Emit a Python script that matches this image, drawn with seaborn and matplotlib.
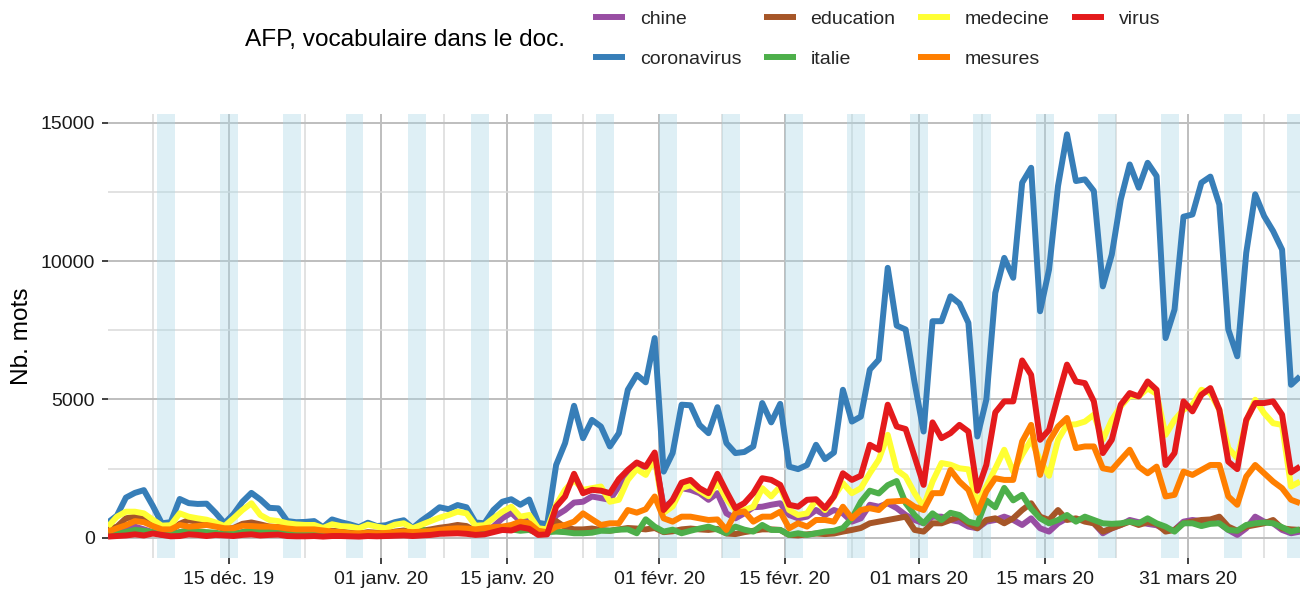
import numpy as np
import pandas as pd
import matplotlib
matplotlib.use("Agg")
import matplotlib.pyplot as plt
import matplotlib.dates as mdates
from matplotlib.lines import Line2D
import seaborn as sns

# ---- data: daily word counts in AFP dispatches (one value per day, Dec 1 2019 -> Apr 12 2020)
first_day = "2019-12-01 12:00"

chine = [100, 150, 250, 400, 300, 200, 100, 80, 200, 250,
         200, 180, 150, 100, 120, 200, 250, 200, 300, 200,
         120, 100, 100, 110, 80, 100, 100, 80, 70, 100,
         80, 70, 100, 120, 80, 100, 150, 200, 250, 300,
         280, 150, 150, 400, 700, 900, 600, 700, 350, 250,
         800, 1000, 1270, 1300, 1490, 1430, 1370, 1850, 2270, 2570,
         2570, 2900, 1120, 1300, 1790, 1730, 1610, 1370, 1610, 880,
         700, 880, 1100, 1120, 1190, 1245, 820, 700, 760, 1000,
         820, 1000, 880, 580, 700, 1190, 1120, 1245, 1070, 820,
         640, 520, 760, 760, 640, 580, 400, 340, 580, 640,
         760, 640, 460, 700, 340, 220, 520, 700, 640, 640,
         520, 160, 340, 460, 640, 560, 500, 450, 280, 280,
         580, 640, 600, 640, 520, 280, 100, 340, 760, 580,
         520, 280, 160, 220]

coronavirus = [550, 800, 1450, 1620, 1720, 1150, 520, 560, 1400, 1250,
               1220, 1230, 900, 520, 850, 1300, 1620, 1380, 1080, 1060,
               600, 560, 570, 600, 380, 660, 560, 480, 380, 540,
               420, 450, 560, 630, 350, 620, 850, 1100, 1030, 1180,
               1100, 550, 520, 1000, 1300, 1390, 1190, 1380, 540, 480,
               2630, 3420, 4770, 3600, 4260, 4020, 3300, 3780, 5350, 5890,
               5620, 7220, 2390, 3060, 4810, 4790, 4080, 3780, 4720, 3420,
               3060, 3100, 3300, 4870, 4170, 4840, 2570, 2480, 2630, 3360,
               2840, 3080, 5350, 4200, 4380, 6080, 6440, 9760, 7670, 7530,
               5600, 3840, 7830, 7830, 8730, 8470, 7770, 3660, 4990, 8850,
               10120, 9400, 12840, 13380, 8190, 9700, 12720, 14590, 12900, 12960,
               12540, 9090, 10240, 12230, 13500, 12660, 13560, 13080, 7220, 8250,
               11610, 11690, 12840, 13060, 12050, 7530, 6560, 10300, 12420, 11630,
               11090, 10420, 5530, 5830]

education = [300, 400, 700, 760, 720, 500, 300, 250, 500, 640,
             560, 500, 450, 300, 350, 500, 550, 480, 400, 380,
             300, 280, 260, 240, 200, 250, 220, 180, 150, 200,
             180, 150, 220, 260, 180, 250, 300, 360, 400, 460,
             420, 250, 230, 330, 380, 400, 380, 420, 200, 180,
             600, 380, 300, 300, 330, 280, 250, 300, 350, 330,
             300, 350, 200, 230, 300, 330, 300, 280, 320, 150,
             130, 200, 250, 300, 300, 280, 100, 80, 120, 150,
             130, 150, 220, 280, 350, 520, 580, 640, 700, 760,
             280, 220, 520, 520, 640, 760, 520, 340, 640, 700,
             520, 700, 1000, 1245, 760, 640, 1000, 640, 700, 580,
             520, 220, 340, 460, 580, 460, 560, 500, 220, 280,
             520, 580, 640, 660, 760, 400, 250, 400, 460, 520,
             640, 340, 300, 280]

italie = [100, 150, 200, 280, 250, 200, 120, 100, 200, 250,
          220, 200, 180, 120, 150, 200, 250, 220, 200, 180,
          120, 100, 120, 130, 80, 120, 130, 100, 90, 120,
          100, 90, 120, 150, 100, 300, 180, 200, 300, 250,
          220, 150, 150, 250, 300, 300, 250, 280, 150, 200,
          220, 200, 160, 160, 180, 250, 250, 290, 300, 160,
          665, 400, 220, 290, 160, 250, 330, 400, 290, 160,
          400, 290, 220, 460, 280, 280, 100, 160, 100, 160,
          220, 250, 350, 700, 1300, 1700, 1600, 1900, 2050, 1250,
          820, 520, 880, 640, 900, 820, 580, 500, 1350, 1100,
          1800, 1350, 1550, 1050, 700, 520, 640, 820, 580, 760,
          640, 520, 500, 520, 580, 520, 700, 520, 400, 220,
          520, 520, 420, 500, 520, 280, 250, 460, 520, 550,
          520, 380, 220, 300]

medecine = [400, 760, 940, 940, 880, 650, 435, 450, 880, 760,
            700, 650, 550, 420, 700, 1000, 1245, 820, 640, 600,
            520, 480, 460, 460, 350, 485, 420, 400, 340, 470,
            400, 340, 470, 520, 340, 470, 600, 725, 820, 940,
            880, 435, 450, 700, 940, 1120, 760, 820, 340, 300,
            1185, 1730, 2090, 1730, 1790, 1850, 1300, 1370, 2090, 2480,
            2270, 2900, 900, 1130, 1790, 1900, 1700, 1500, 2000, 1400,
            1000, 1000, 1120, 1790, 1490, 1850, 1000, 820, 880, 1370,
            1000, 1490, 1970, 1610, 1790, 2330, 2820, 3720, 2450, 2210,
            1610, 1120, 2030, 2700, 2640, 2510, 2470, 1245, 1850, 2500,
            3180, 2390, 3000, 3540, 2800, 2240, 3540, 4080, 4100, 4200,
            4450, 3540, 4260, 4750, 5120, 5110, 5400, 5200, 3720, 4260,
            4630, 4800, 5350, 5230, 4630, 3240, 2880, 4200, 4990, 4500,
            4140, 4080, 1850, 2030]

mesures = [220, 340, 450, 600, 560, 420, 300, 300, 460, 400,
           420, 460, 400, 340, 340, 430, 420, 400, 400, 380,
           330, 300, 300, 300, 260, 220, 200, 160, 160, 170,
           160, 170, 200, 220, 200, 220, 240, 280, 320, 340,
           330, 300, 340, 380, 400, 460, 580, 520, 250, 200,
           400, 460, 580, 880, 665, 460, 520, 520, 1000, 905,
           1030, 1490, 700, 580, 760, 760, 700, 640, 660, 280,
           900, 950, 580, 760, 760, 940, 340, 520, 400, 640,
           640, 580, 1120, 700, 1000, 1065, 1000, 1300, 1320, 1340,
           1120, 1000, 1610, 1610, 2450, 2030, 1730, 900, 1670, 2150,
           2090, 2090, 3480, 4080, 2270, 3480, 4020, 4330, 3240, 3300,
           3300, 2510, 2450, 2820, 3180, 2570, 2330, 2570, 1490, 1550,
           2390, 2270, 2450, 2630, 2630, 1490, 1190, 2210, 2630, 2330,
           2030, 1790, 1370, 1250]

virus = [40, 60, 80, 120, 80, 150, 100, 50, 60, 120,
         100, 60, 100, 80, 60, 100, 120, 80, 100, 110,
         60, 50, 50, 60, 40, 60, 60, 50, 40, 60,
         50, 60, 70, 80, 60, 80, 100, 140, 150, 160,
         140, 100, 120, 200, 280, 260, 380, 320, 100, 120,
         1120, 1490, 2310, 1610, 1730, 1700, 1610, 2120, 2450, 2720,
         2570, 3080, 1000, 1370, 1990, 2090, 1790, 1610, 2310, 1670,
         1070, 1250, 1610, 2150, 2090, 1910, 1190, 1120, 1370, 1390,
         1070, 1490, 2330, 2090, 2240, 3360, 3180, 4810, 4020, 3930,
         2930, 1910, 4170, 3600, 3780, 4080, 3840, 1700, 2630, 4530,
         4930, 4930, 6410, 5890, 3540, 3900, 5110, 6260, 5650, 5590,
         4930, 3060, 3540, 4810, 5230, 5110, 5650, 5350, 2630, 3060,
         4930, 4570, 5170, 5410, 4630, 2750, 2480, 4260, 4870, 4870,
         4930, 4450, 2360, 2570]

terms = ["chine", "coronavirus", "education", "italie", "medecine", "mesures", "virus"]
term_colors = ["#984EA3", "#377EB8", "#A65628", "#4DAF4A", "#FFFF33", "#FF7F00", "#E41A1C"]

x_breaks = ["2019-12-15 00:00", "2020-01-01 00:00", "2020-01-15 00:00", "2020-02-01 00:00",
            "2020-02-15 00:00", "2020-03-01 00:00", "2020-03-15 00:00", "2020-03-31 00:00"]
x_labels = ["15 déc. 19", "01 janv. 20", "15 janv. 20", "01 févr. 20",
            "15 févr. 20", "01 mars 20", "15 mars 20", "31 mars 20"]
x_minor = ["2019-12-06 12:00", "2019-12-23 12:00", "2020-01-08 00:00", "2020-01-23 12:00",
           "2020-02-08 00:00", "2020-02-22 12:00", "2020-03-08 00:00", "2020-03-23 00:00",
           "2020-04-08 12:00"]
y_breaks = [0, 5000, 10000, 15000]
y_minor = [2500, 7500, 12500]

legend_title = "AFP, vocabulaire dans le doc."
y_title = "Nb. mots"

# ---- long table for seaborn
series = dict(zip(terms, [chine, coronavirus, education, italie, medecine, mesures, virus]))
dates = pd.date_range(first_day, periods=len(coronavirus), freq="D")
df = pd.DataFrame(series, index=dates).rename_axis("jour").reset_index()
long = df.melt(id_vars="jour", var_name="terme", value_name="n")

# ---- style
sns.set_style("white")
plt.rcParams["font.family"] = ["Liberation Sans", "DejaVu Sans"]

W, H = 1309, 594
fig = plt.figure(figsize=(W / 100, H / 100), dpi=100)
L, R, T, B = 108, 1300, 114, 558
ax = fig.add_axes([L / W, 1 - B / H, (R - L) / W, (B - T) / H])

# weekend bands (Saturday 00:00 -> Monday 00:00)
for d in dates[dates.dayofweek == 5]:
    s = d.normalize()
    ax.axvspan(s, s + pd.Timedelta(days=2), color="#ADD8E6", alpha=0.4, lw=0, zorder=1)

sns.lineplot(data=long, x="jour", y="n", hue="terme", hue_order=terms,
             palette=dict(zip(terms, term_colors)), linewidth=4.3,
             legend=False, ax=ax, zorder=3)
for ln in ax.get_lines():
    ln.set_solid_joinstyle("round")
    ln.set_solid_capstyle("butt")

ax.set_xlim(dates[0], dates[-1])
ax.set_ylim(-735, 15325)

ax.set_xticks(mdates.date2num(pd.to_datetime(x_breaks)))
ax.set_xticklabels(x_labels)
ax.set_xticks(mdates.date2num(pd.to_datetime(x_minor)), minor=True)
ax.set_yticks(y_breaks)
ax.set_yticklabels([str(v) for v in y_breaks])
ax.set_yticks(y_minor, minor=True)

ax.set_axisbelow(True)
ax.grid(which="major", color="#BEBEBE", linewidth=1.4, zorder=0)
ax.grid(which="minor", color="#DADADA", linewidth=1.1, zorder=0)
for sp in ax.spines.values():
    sp.set_visible(False)

ax.tick_params(which="major", length=4, width=1.3, color="#333333",
               labelsize=14, labelcolor="#1A1A1A", pad=5.5)
ax.tick_params(which="minor", length=0)
ax.tick_params(axis="y", left=True)
ax.tick_params(axis="x", bottom=True)

ax.set_xlabel("")
ax.set_ylabel(y_title, fontsize=17.6, color="black")
ax.yaxis.set_label_coords(-0.063, 0.5)

# legend: title on the left, keys in 4 columns x 2 rows
fig.text(245 / W, 1 - 40 / H, legend_title, fontsize=17.6, ha="left", va="center", color="black")
handles = [Line2D([0], [0], color=c, lw=4.3, solid_capstyle="butt") for c in term_colors]
fig.legend(handles, terms, ncol=4, loc="upper left",
           bbox_to_anchor=(593 / W, 1 - 10 / H), frameon=False, fontsize=14,
           handlelength=1.65, handletextpad=0.75, columnspacing=1.16,
           labelspacing=1.16, borderpad=0, borderaxespad=0)

fig.savefig("out.png", dpi=100)
